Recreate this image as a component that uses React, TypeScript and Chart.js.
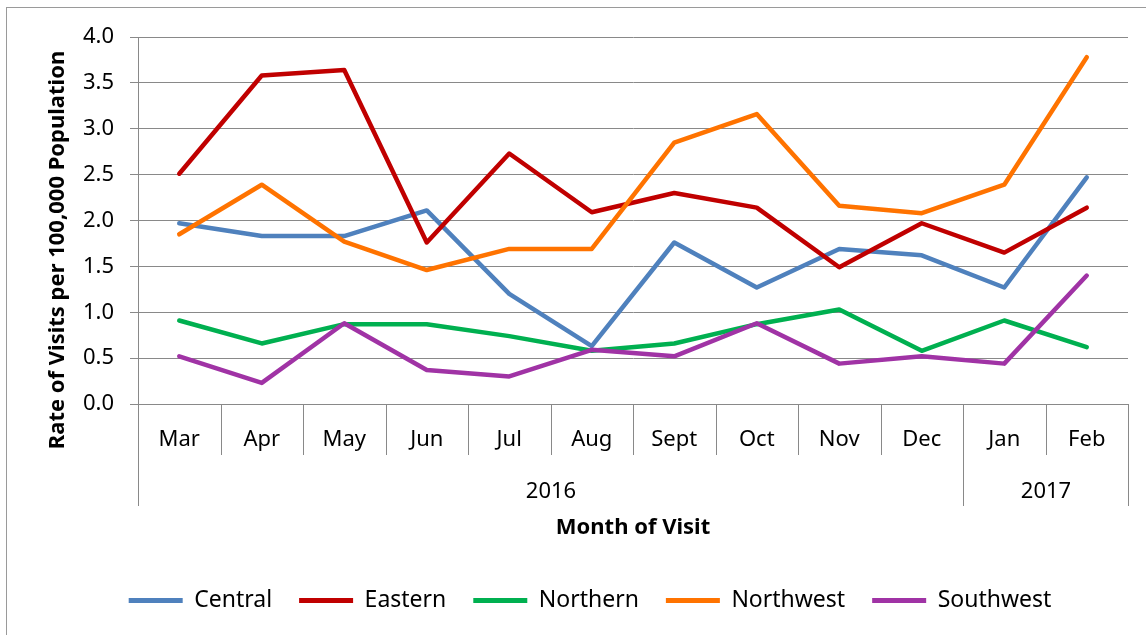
import React, { useEffect, useRef } from 'react';
import { Chart, registerables } from 'chart.js';

Chart.register(...registerables);

const months = ['Mar', 'Apr', 'May', 'Jun', 'Jul', 'Aug', 'Sept', 'Oct', 'Nov', 'Dec', 'Jan', 'Feb'];
const years = ['2016', '2017'];
const yearFirstMonth = [0, 10];

const central = [1.97, 1.83, 1.83, 2.11, 1.2, 0.63, 1.76, 1.27, 1.69, 1.62, 1.27, 2.47];
const eastern = [2.51, 3.58, 3.64, 1.76, 2.73, 2.09, 2.3, 2.14, 1.49, 1.97, 1.65, 2.14];
const northern = [0.91, 0.66, 0.87, 0.87, 0.74, 0.58, 0.66, 0.87, 1.03, 0.58, 0.91, 0.62];
const northwest = [1.85, 2.39, 1.77, 1.46, 1.69, 1.69, 2.85, 3.16, 2.16, 2.08, 2.39, 3.78];
const southwest = [0.52, 0.23, 0.88, 0.37, 0.3, 0.59, 0.52, 0.88, 0.44, 0.52, 0.44, 1.4];

const seriesNames = ['Central', 'Eastern', 'Northern', 'Northwest', 'Southwest'];
const seriesData = [central, eastern, northern, northwest, southwest];
const seriesColors = ['#4F81BD', '#C00000', '#00B050', '#FF7300', '#A033A5'];

const yTitle = 'Rate of Visits per 100,000 Population';
const xTitle = 'Month of Visit';

const FONT = '"Noto Sans", sans-serif';
const AXIS_GREY = '#898989';

const decorPlugin = {
  id: 'excelDecor',
  afterLayout(chart: any) {
    const lg = chart.legend;
    if (lg) {
      lg.left += 26;
      lg.right += 26;
    }
  },
  beforeDraw(chart: any) {
    const ctx = chart.ctx;
    ctx.save();
    ctx.strokeStyle = '#9a9a9a';
    ctx.lineWidth = 1;
    ctx.strokeRect(6.5, 7.5, chart.width + 10, chart.height + 10);
    ctx.restore();
  },
  afterDraw(chart: any) {
    const ctx = chart.ctx;
    const xs = chart.scales.x;
    const area = chart.chartArea;
    const n = months.length;
    const half = (xs.getPixelForValue(1) - xs.getPixelForValue(0)) / 2;
    const base = area.bottom;
    const edge = (i: number) => Math.round(i < n ? xs.getPixelForValue(i) - half : xs.getPixelForValue(n - 1) + half) + 0.5;
    ctx.save();
    ctx.strokeStyle = AXIS_GREY;
    ctx.lineWidth = 1;
    ctx.beginPath();
    for (let i = 0; i <= n; i++) {
      const bx = edge(i);
      ctx.moveTo(bx, base);
      ctx.lineTo(bx, base + 51);
    }
    const bounds = [...yearFirstMonth, n];
    for (const b of bounds) {
      const bx = edge(b);
      ctx.moveTo(bx, base);
      ctx.lineTo(bx, base + 102);
    }
    ctx.stroke();
    ctx.fillStyle = '#000';
    ctx.font = `22px ${FONT}`;
    ctx.textAlign = 'center';
    ctx.textBaseline = 'middle';
    years.forEach((yr, k) => {
      const a = edge(bounds[k]);
      const b = edge(bounds[k + 1]);
      ctx.fillText(yr, (a + b) / 2, base + 88);
    });
    // y-axis title
    ctx.font = `bold 22px ${FONT}`;
    ctx.translate(58, 250);
    ctx.rotate(-Math.PI / 2);
    ctx.fillText(yTitle, 0, 0);
    ctx.restore();
  },
};

export default function App() {
  const ref = useRef<HTMLCanvasElement | null>(null);
  useEffect(() => {
    const canvas = ref.current;
    if (!canvas) return;
    const chart = new Chart(canvas, {
      type: 'line',
      data: {
        labels: months,
        datasets: seriesNames.map((name, i) => ({
          label: name,
          data: seriesData[i],
          borderColor: seriesColors[i],
          backgroundColor: seriesColors[i],
          borderWidth: 4.5,
          pointRadius: 0,
          pointHoverRadius: 0,
          tension: 0,
          borderCapStyle: 'round',
          borderJoinStyle: 'round',
          order: seriesNames.length - i,
        })),
      },
      options: {
        responsive: false,
        animation: false,
        layout: { padding: { top: 37, right: 18, left: 0, bottom: 13 } },
        plugins: {
          tooltip: { enabled: false },
          legend: {
            position: 'bottom',
            labels: {
              boxWidth: 54,
              boxHeight: 5,
              padding: 27,
              color: '#000',
              font: { family: FONT, size: 23 },
              sort: (a: any, b: any) => a.datasetIndex - b.datasetIndex,
              generateLabels: (chart: any) =>
                Chart.defaults.plugins.legend.labels.generateLabels(chart).map((l: any) => ({
                  ...l,
                  lineWidth: 0,
                  fillStyle: seriesColors[l.datasetIndex],
                })),
            },
          },
        },
        scales: {
          x: {
            type: 'category',
            offset: true,
            grid: { display: false, drawTicks: false },
            border: { display: true, color: AXIS_GREY, width: 1 },
            ticks: { color: '#000', font: { family: FONT, size: 22 }, padding: 23, maxRotation: 0, autoSkip: false },
            title: { display: true, text: xTitle, color: '#000', font: { family: FONT, size: 22, weight: 'bold' }, padding: { top: 0, bottom: 21 } },
            afterFit: (s: any) => { s.height = 158; },
          },
          y: {
            min: 0,
            max: 4,
            ticks: { stepSize: 0.5, color: '#000', font: { family: FONT, size: 22 }, padding: 16, callback: (v: any) => Number(v).toFixed(1) },
            grid: { color: AXIS_GREY, lineWidth: 1, tickLength: 8, drawTicks: true },
            border: { display: true, color: AXIS_GREY, width: 1 },
            afterFit: (s: any) => { s.width = 138; },
          },
        },
      },
      plugins: [decorPlugin],
    } as any);
    return () => chart.destroy();
  }, []);
  return (
    <div style={{ position: 'fixed', left: 0, top: 0, width: 1146, height: 635, background: '#fff' }}>
      <canvas ref={ref} width={1146} height={635} style={{ display: 'block' }} />
    </div>
  );
}
